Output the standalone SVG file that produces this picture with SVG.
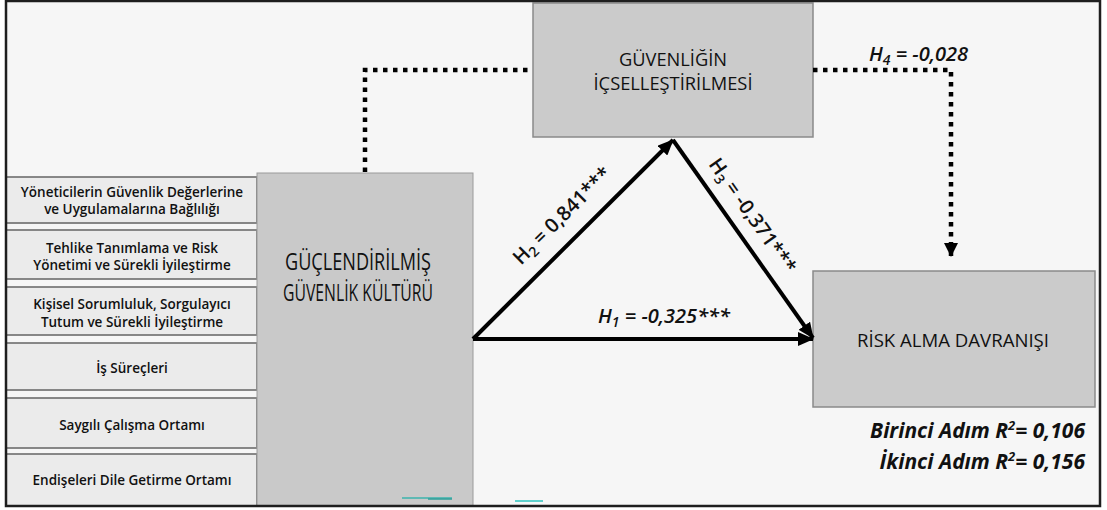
<svg xmlns="http://www.w3.org/2000/svg" width="1107" height="510" viewBox="0 0 1107 510">
<defs>
<style>
.bg{fill:#f6f6f6}
.frame{fill:none;stroke:#1e1e1e;stroke-width:2.5}
.sub{fill:#ebebeb;stroke:#7c7c7c;stroke-width:1.8}
.big{fill:#c9c9c9;stroke:#9a9a9a;stroke-width:1}
.node{fill:#cbcbcb;stroke:#8a8a8a;stroke-width:1.5}
.t{font-family:"Open Sans","Noto Sans",sans-serif;fill:#111;text-anchor:middle}
.sm{font-size:13.5px;font-weight:600}
.hd{font-size:18px;font-weight:500}
.lab{font-family:"Open Sans","Noto Sans",sans-serif;fill:#111;font-size:20px;font-weight:600}
.it{font-style:italic}
.r2{font-size:21px;font-weight:700}
.solid{fill:none;stroke:#000;stroke-width:4}
.dot{fill:none;stroke:#000;stroke-width:4.5;stroke-dasharray:4.5 5.5}
</style>
<marker id="ah" markerUnits="userSpaceOnUse" markerWidth="16" markerHeight="14" refX="15" refY="7" orient="auto">
<path d="M0,0 L16,7 L0,14 z" fill="#000"/>
</marker>
<marker id="ahs" markerUnits="userSpaceOnUse" markerWidth="14" markerHeight="14" refX="13" refY="7" orient="auto">
<path d="M0,0 L14,7 L0,14 z" fill="#000"/>
</marker>
</defs>
<rect x="0" y="0" width="1107" height="510" fill="#ffffff"/>
<rect class="bg" x="6" y="1" width="1094" height="505"/>

<g id="sub-items">
<rect class="sub" x="6" y="177" width="251" height="46"/>
<text class="t sm" x="132" y="197">Yöneticilerin Güvenlik Değerlerine</text>
<text class="t sm" x="132" y="214">ve Uygulamalarına Bağlılığı</text>
<rect class="sub" x="6" y="230" width="251" height="49"/>
<text class="t sm" x="132" y="253">Tehlike Tanımlama ve Risk</text>
<text class="t sm" x="132" y="270">Yönetimi ve Sürekli İyileştirme</text>
<rect class="sub" x="6" y="287" width="251" height="48"/>
<text class="t sm" x="132" y="309">Kişisel Sorumluluk, Sorgulayıcı</text>
<text class="t sm" x="132" y="327">Tutum ve Sürekli İyileştirme</text>
<rect class="sub" x="6" y="343" width="251" height="47"/>
<text class="t sm" x="132" y="373">İş Süreçleri</text>
<rect class="sub" x="6" y="398" width="251" height="50"/>
<text class="t sm" x="132" y="430">Saygılı Çalışma Ortamı</text>
<rect class="sub" x="6" y="454" width="251" height="52"/>
<text class="t sm" x="132" y="485">Endişeleri Dile Getirme Ortamı</text>
</g>

<g id="node-guclendirilmis">
<rect class="big" x="257" y="173" width="216" height="333"/>
<text class="t" x="358" y="270" font-size="23" font-weight="500" textLength="146" lengthAdjust="spacingAndGlyphs">GÜÇLENDİRİLMİŞ</text>
<text class="t" x="358" y="301" font-size="23" font-weight="500" textLength="150" lengthAdjust="spacingAndGlyphs">GÜVENLİK KÜLTÜRÜ</text>
</g>

<g id="node-icsellestirme">
<rect class="node" x="533" y="3" width="280" height="134"/>
<text class="t hd" x="673" y="66" textLength="108" lengthAdjust="spacingAndGlyphs">GÜVENLİĞİN</text>
<text class="t hd" x="673" y="90" textLength="159" lengthAdjust="spacingAndGlyphs">İÇSELLEŞTİRİLMESİ</text>
</g>

<g id="node-risk">
<rect class="node" x="813" y="271" width="282" height="136"/>
<text class="t" x="953" y="347" font-size="19" font-weight="500" textLength="192" lengthAdjust="spacingAndGlyphs">RİSK ALMA DAVRANIŞI</text>
</g>

<g id="connectors">
<polyline class="dot" points="365,172 365,70 533,70"/>
<polyline class="dot" points="813,70 951,70 951,256" marker-end="url(#ahs)"/>
<line class="solid" x1="473" y1="339" x2="673" y2="140" marker-end="url(#ah)"/>
<line class="solid" x1="673" y1="140" x2="813" y2="338" marker-end="url(#ah)"/>
<line class="solid" x1="473" y1="339" x2="813" y2="339" marker-end="url(#ah)"/>
</g>

<g id="labels">
<text class="lab it" x="869" y="61">H<tspan font-size="14" dy="4">4</tspan><tspan dy="-4"> = -0,028</tspan></text>
<text class="lab it" x="664" y="323" text-anchor="middle">H<tspan font-size="14" dy="4">1</tspan><tspan dy="-4"> = -0,325***</tspan></text>
<text class="lab" x="0" y="0" text-anchor="middle" transform="translate(566.7,220.4) rotate(-44.85)">H<tspan font-size="14" dy="4">2</tspan><tspan dy="-4"> = 0,841***</tspan></text>
<text class="lab" x="0" y="0" text-anchor="middle" transform="translate(747,219.6) rotate(54.74)">H<tspan font-size="14" dy="4">3</tspan><tspan dy="-4"> = -0,371***</tspan></text>
<text class="lab it r2" x="1085" y="438" text-anchor="end">Birinci Adım R<tspan font-size="13" dy="-8">2</tspan><tspan dy="8">= 0,106</tspan></text>
<text class="lab it r2" x="1085" y="469" text-anchor="end">İkinci Adım R<tspan font-size="13" dy="-8">2</tspan><tspan dy="8">= 0,156</tspan></text>
</g>

<g id="artifacts">
<line x1="402" y1="498" x2="452" y2="498" stroke="#3bb3ad" stroke-width="1.5"/>
<line x1="428" y1="499" x2="452" y2="499" stroke="#2f9f9a" stroke-width="1.5"/>
<line x1="515" y1="501" x2="543" y2="501" stroke="#5fd0cc" stroke-width="2"/>
</g>

<rect class="frame" x="6" y="1" width="1094" height="505"/>
</svg>
